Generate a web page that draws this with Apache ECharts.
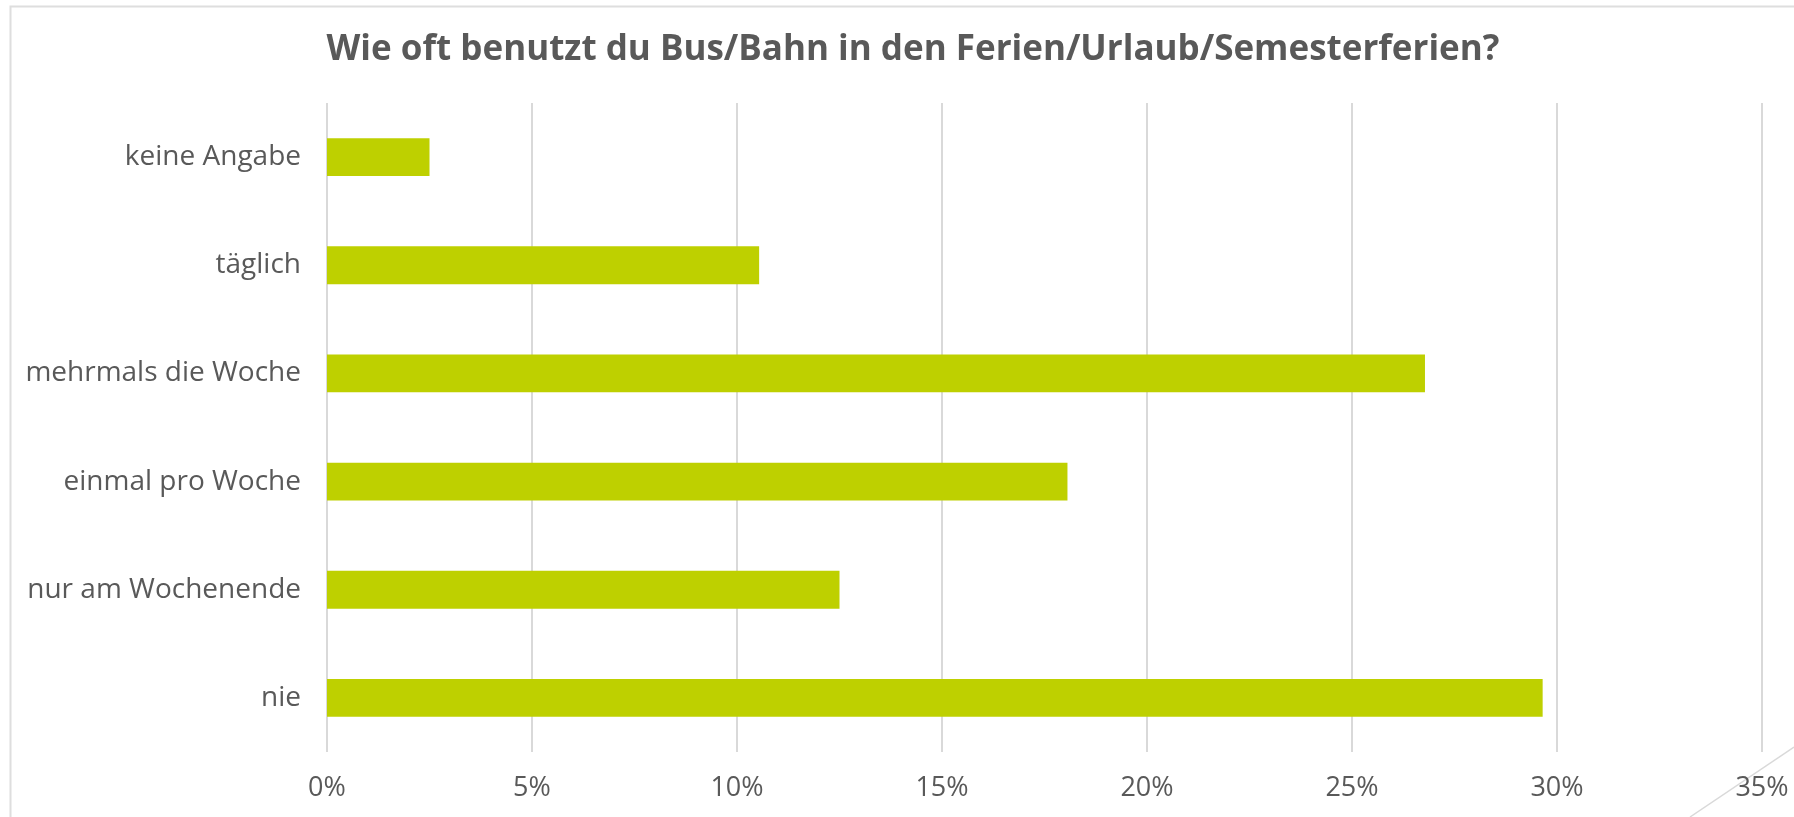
<!DOCTYPE html>
<html>
<head>
<meta charset="utf-8">
<style>
  html, body { margin: 0; padding: 0; background: #ffffff; }
  #chart { width: 1794px; height: 817px; }
</style>
<script src="https://cdn.jsdelivr.net/npm/echarts@6/dist/echarts.min.js"></script>
</head>
<body>
<div id="chart"></div>
<script>
// Data (top to bottom as shown)
const titleText = 'Wie oft benutzt du Bus/Bahn in den Ferien/Urlaub/Semesterferien?';
const categories = ['keine Angabe', 'täglich', 'mehrmals die Woche', 'einmal pro Woche', 'nur am Wochenende', 'nie'];
const values = [2.5, 10.54, 26.78, 18.06, 12.5, 29.65];
const tickValues = [0, 5, 10, 15, 20, 25, 30, 35];

const FONT = '"Open Sans", "Noto Sans", sans-serif';
const TEXT = '#595959';

const chart = echarts.init(document.getElementById('chart'), null, { renderer: 'canvas' });
chart.setOption({
  backgroundColor: '#ffffff',
  animation: false,
  title: {
    text: titleText,
    left: 908,
    textAlign: 'center',
    top: 28,
    textStyle: { fontFamily: FONT, fontSize: 35, fontWeight: 'bold', color: TEXT }
  },
  grid: { left: 327, right: 32, top: 103, bottom: 65, containLabel: false },
  xAxis: {
    type: 'value',
    min: tickValues[0],
    max: tickValues[tickValues.length - 1],
    interval: 5,
    axisLine: { show: false },
    axisTick: { show: false },
    splitLine: { show: true, lineStyle: { color: '#D9D9D9', width: 2 } },
    axisLabel: {
      margin: 23,
      fontFamily: FONT, fontSize: 27, color: TEXT,
      formatter: v => v + '%'
    }
  },
  yAxis: {
    type: 'category',
    data: categories,
    inverse: true,
    axisLine: { show: false },
    axisTick: { show: false },
    splitLine: { show: false },
    axisLabel: { margin: 26, fontFamily: FONT, fontSize: 28, color: TEXT }
  },
  series: [{
    type: 'bar',
    data: values,
    barWidth: '35%',
    itemStyle: { color: '#BED000' }
  }],
  graphic: [
    {
      type: 'polyline',
      shape: { points: [[1794, 6.5], [10.5, 6.5], [10.5, 817]] },
      style: { stroke: '#DEDEDE', lineWidth: 2, fill: null },
      silent: true
    },
    {
      type: 'line',
      shape: { x1: 1794, y1: 747, x2: 1690, y2: 817 },
      style: { stroke: '#D9D9D9', lineWidth: 1.5 },
      silent: true
    }
  ]
});
</script>
</body>
</html>
